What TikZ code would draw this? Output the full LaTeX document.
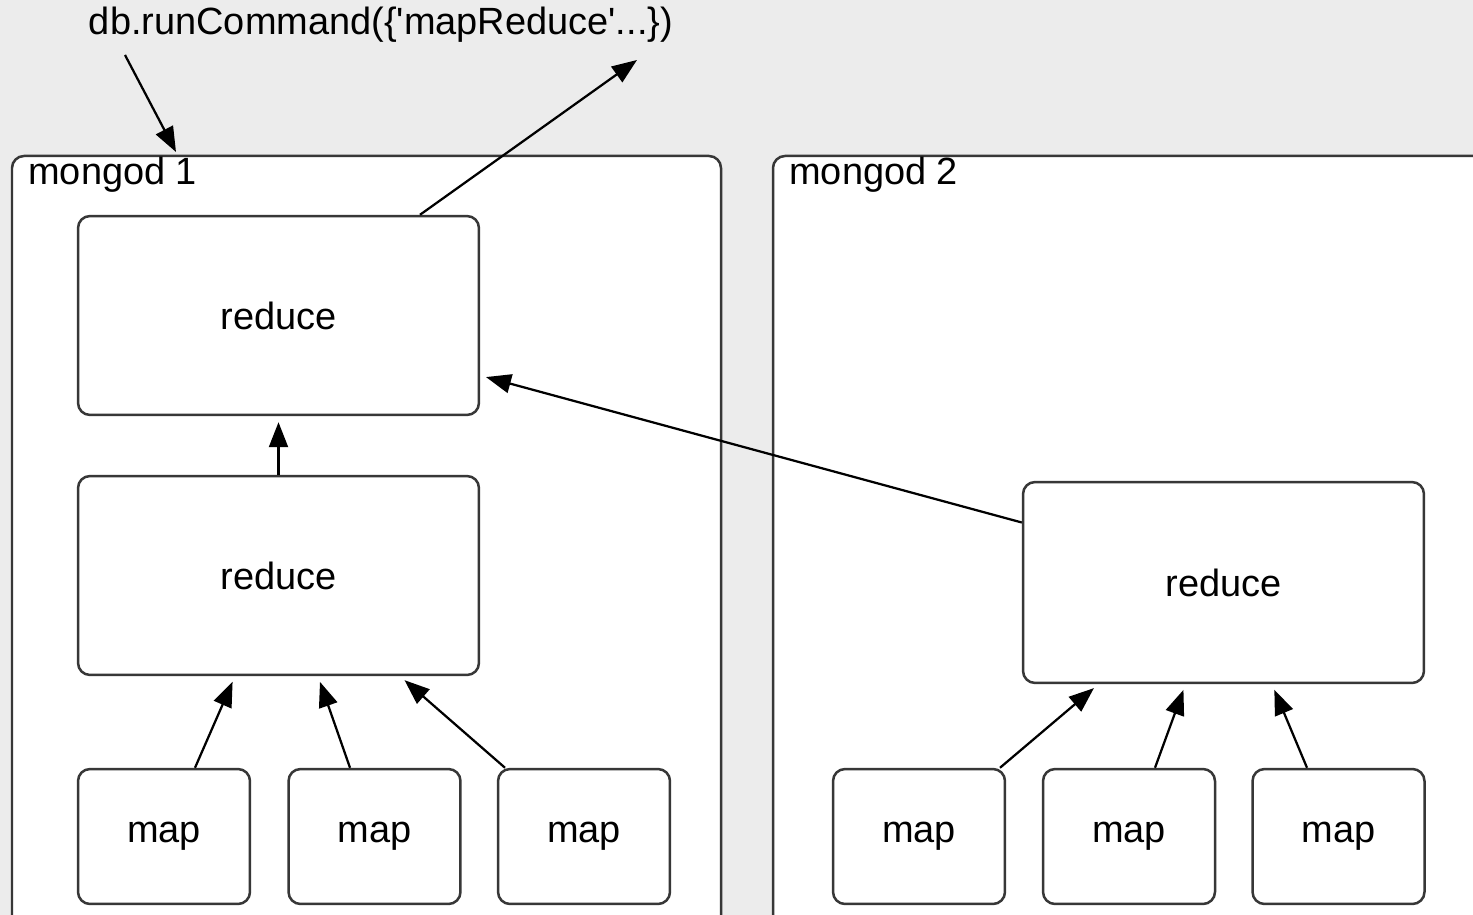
\documentclass[tikz,border=0pt]{standalone}
\usepackage{fontspec}
\setmainfont{Liberation Sans}
\definecolor{canvas}{RGB}{236,236,236}
\definecolor{edge}{RGB}{55,55,55}
\usetikzlibrary{arrows.meta, positioning, calc}

\begin{document}
\begin{tikzpicture}[x=0.02cm, y=-0.02cm,
    every node/.style={font=\fontsize{21.6}{26}\selectfont},
    host/.style={draw=edge, line width=0.05cm, fill=white, rounded corners=0.24cm},
    task/.style={draw=edge, line width=0.05cm, fill=white, rounded corners=0.24cm},
    reducer/.style={task, minimum width=8.02cm, minimum height=3.98cm},
    mapper/.style={task, minimum width=3.44cm, minimum height=2.7cm},
    flow/.style={-{Triangle[length=0.5cm, width=0.38cm]}, line width=0.045cm, shorten >=0.12cm}]

    % Canvas
    \fill[canvas] (0,0) rectangle (1473,915);
    \useasboundingbox (0,0) rectangle (1473,915);

    % The two servers
    \draw[host] (12,156) rectangle (721,945);
    \draw[host] (773,156) rectangle (1510,945);
    \node[anchor=base west, inner sep=0pt] (host1) at (28,185) {mongod 1};
    \node[anchor=base west, inner sep=0pt] (host2) at (789,185) {mongod 2};

    % Command issued by the client
    \node[anchor=base] (cmd) at (381,35) {db.runCommand(\{\textquotesingle mapReduce\textquotesingle...\})};
    \coordinate (call) at (125,55);
    \coordinate (entry) at (176,152);
    \coordinate (result) at (637,60);

    % Reduce stages
    \node[reducer] (rtop) at (278.5,315.5) {reduce};
    \node[reducer] (rmid) at (278.5,575.5) {reduce};
    \node[reducer, minimum height=4.02cm] (rright) at (1223.5,582.5) {reduce};

    % Map tasks
    \foreach \n/\x in {1/164, 2/374.5, 3/584, 4/919, 5/1129, 6/1338.5}
        \node[mapper] (map\n) at (\x,836.5) {map};

    % Map output into the local reduce
    \foreach \m/\dx/\t/\tx in {1/31/rmid/-43.5, 2/-24.5/rmid/39.5, 3/-79/rmid/121.5,
                               4/81/rright/-125, 5/26/rright/-38, 6/-31.5/rright/48.5}
        \draw[flow] ($(map\m.north)+(\dx,0)$) -- ($(\t.south)+(\tx,0)$);

    % Reduce chain up to the final result
    \draw[flow] (rmid.north) -- (rtop.south);
    \draw[flow] ($(rright.west)+(0,-60)$) -- ($(rtop.east)+(0,60)$);
    \draw[flow, shorten >=0pt] (call) -- (entry);
    \draw[flow, shorten >=0pt] ($(rtop.north)+(141.5,0)$) -- (result);
\end{tikzpicture}
\end{document}
